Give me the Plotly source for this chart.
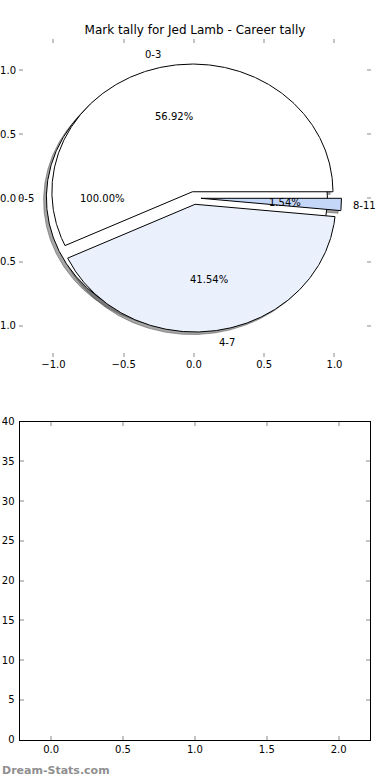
import numpy as np
import plotly.graph_objects as go

# ---------------- data ----------------
TITLE = "Mark tally for Jed Lamb - Career tally"
overall_labels = ["0-5"]
overall_values = [65]
tally_labels = ["0-3", "4-7", "8-11"]
tally_values = [37, 27, 1]
pie_ticks = [-1.0, -0.5, 0.0, 0.5, 1.0]
bottom_xticks = [0.0, 0.5, 1.0, 1.5, 2.0]
bottom_yticks = [0, 5, 10, 15, 20, 25, 30, 35, 40]
WATERMARK = "Dream-Stats.com"

# ---------------- style ----------------
overall_colors = ["#ffffff"]
tally_colors = ["#ffffff", "#eaf0fc", "#c4d7f8"]
EXPLODE = 0.05
LABEL_DIST = 1.1
PCT_DIST = 0.6
SHADOW = (-0.02, -0.02)
SHADOW_COLOR = "rgba(77,77,77,0.5)"
FONT = "DejaVu Sans"
TICK_COLOR = "#c4c4c4"
W, H = 390, 780


def wedge_geometry(values):
    total = float(sum(values))
    out = []
    t1 = 0.0
    for v in values:
        t2 = t1 + 360.0 * v / total
        mid = np.radians((t1 + t2) / 2.0)
        cx, cy = EXPLODE * np.cos(mid), EXPLODE * np.sin(mid)
        full = abs((t2 - t1) - 360.0) < 1e-9
        n = max(int(abs(t2 - t1) * 2), 6)
        ts = np.radians(np.linspace(t1, t2, n))
        xs = cx + np.cos(ts)
        ys = cy + np.sin(ts)
        if not full:
            xs = np.concatenate([[cx], xs, [cx]])
            ys = np.concatenate([[cy], ys, [cy]])
        out.append(dict(xs=xs, ys=ys, cx=cx, cy=cy, mid=mid, pct=100.0 * v / total))
        t1 = t2
    return out


pies = [
    (overall_labels, wedge_geometry(overall_values), overall_colors),
    (tally_labels, wedge_geometry(tally_values), tally_colors),
]

fig = go.Figure()

# shadows (drawn beneath every wedge)
for labels, geo, colors in pies:
    for g in geo:
        fig.add_trace(go.Scatter(
            x=g["xs"] + SHADOW[0], y=g["ys"] + SHADOW[1], mode="lines",
            fill="toself", fillcolor=SHADOW_COLOR,
            line=dict(color=SHADOW_COLOR, width=1),
            hoverinfo="skip", showlegend=False, xaxis="x", yaxis="y"))

# wedges
annotations = []
for labels, geo, colors in pies:
    for lab, g, col in zip(labels, geo, colors):
        fig.add_trace(go.Scatter(
            x=g["xs"], y=g["ys"], mode="lines", fill="toself", fillcolor=col,
            line=dict(color="black", width=1), name=lab,
            hoverinfo="skip", showlegend=False, xaxis="x", yaxis="y"))
        lx = g["cx"] + LABEL_DIST * np.cos(g["mid"])
        ly = g["cy"] + LABEL_DIST * np.sin(g["mid"])
        right_side = lx > 0
        annotations.append(dict(
            x=lx, y=ly, xref="x", yref="y", text=lab, showarrow=False,
            xanchor="left" if right_side else "right", yanchor="middle",
            xshift=-3 if right_side else 3, borderpad=0,
            font=dict(family=FONT, size=10, color="black")))
        px = g["cx"] + PCT_DIST * np.cos(g["mid"])
        py = g["cy"] + PCT_DIST * np.sin(g["mid"])
        annotations.append(dict(
            x=px, y=py, xref="x", yref="y", text="%.2f%%" % g["pct"],
            showarrow=False, xanchor="center", yanchor="middle", borderpad=0,
            font=dict(family=FONT, size=10, color="black")))

# empty lower subplot
fig.add_trace(go.Scatter(x=[], y=[], xaxis="x2", yaxis="y2",
                         showlegend=False, hoverinfo="skip"))

annotations.append(dict(
    x=0, y=(H - 770) / H, xref="paper", yref="paper", text="<b>%s</b>" % WATERMARK,
    showarrow=False, xanchor="left", yanchor="middle",
    font=dict(family=FONT, size=11, color="#8f8f8f")))

common_tick = dict(ticks="inside", ticklen=4, tickwidth=2, tickcolor=TICK_COLOR,
                   showgrid=False, zeroline=False, automargin=False,
                   tickfont=dict(family=FONT, size=10, color="black"))

fig.update_layout(
    template="none",
    width=W, height=H,
    margin=dict(l=0, r=0, t=0, b=0, pad=0, autoexpand=False),
    paper_bgcolor="white", plot_bgcolor="white",
    title=dict(text=TITLE, x=0.5, xanchor="center", y=1 - 30 / H, yanchor="middle",
               font=dict(family=FONT, size=12, color="black")),
    xaxis=dict(domain=[19 / W, 371 / W], range=[-1.245, 1.26], anchor="y",
               tickvals=pie_ticks, tickformat=".1f", showline=False, mirror="ticks",
               **common_tick),
    yaxis=dict(domain=[(H - 357) / H, (H - 39) / H], range=[-1.245, 1.245], anchor="x",
               tickvals=pie_ticks, tickformat=".1f", showline=False, mirror="ticks",
               ticklabelstandoff=2, **common_tick),
    xaxis2=dict(domain=[19.5 / W, 370.3 / W], range=[-0.22, 2.22], anchor="y2",
                tickvals=bottom_xticks, tickformat=".1f", showline=True,
                linecolor="black", linewidth=1, mirror="ticks", **common_tick),
    yaxis2=dict(domain=[(H - 739.5) / H, (H - 421.5) / H], range=[0, 40], anchor="x2",
                tickvals=bottom_yticks, showline=True, ticklabelstandoff=2,
                linecolor="black", linewidth=1, mirror="ticks", **common_tick),
    annotations=annotations,
    showlegend=False,
)

fig.write_html(
    "out.html",
    config={"displayModeBar": False},
    post_script="document.body.style.margin='0px';document.body.style.overflow='hidden';",
)
